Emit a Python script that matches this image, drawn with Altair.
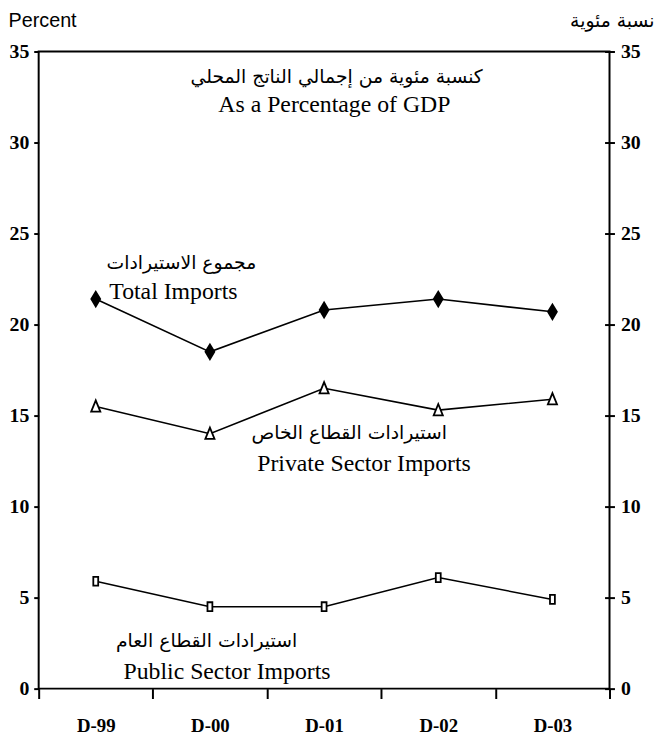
import altair as alt
import pandas as pd

categories = ["D-99", "D-00", "D-01", "D-02", "D-03"]
total = [21.4, 18.5, 20.8, 21.4, 20.7]
private = [15.5, 14.0, 16.5, 15.3, 15.9]
public = [5.9, 4.5, 4.5, 6.1, 4.9]
series_names = ["Total Imports", "Private Sector Imports", "Public Sector Imports"]
y_ticks = [0, 5, 10, 15, 20, 25, 30, 35]

# annotation texts (position in data units: category index, value)
ann_en = ["As a Percentage of GDP", "Total Imports", "Private Sector Imports", "Public Sector Imports"]
ann_en_x = [2.09, 0.68, 2.35, 1.15]
ann_en_y = [32.05, 21.8, 12.35, 0.9]
ann_ar = ["كنسبة مئوية من إجمالي الناتج المحلي", "مجموع الاستيرادات", "استيرادات القطاع الخاص", "استيرادات القطاع العام"]
ann_ar_x = [2.11, 0.75, 2.22, 0.97]
ann_ar_y = [33.6, 23.4, 14.05, 2.6]

rows = []
for s, vals in zip(series_names, [total, private, public]):
    for i, (c, v) in enumerate(zip(categories, vals)):
        rows.append({"series": s, "idx": i, "cat": c, "value": v})
df = pd.DataFrame(rows)

en_df = pd.DataFrame({"text": ann_en, "idx": ann_en_x, "value": ann_en_y})
ar_df = pd.DataFrame({"text": ann_ar, "idx": ann_ar_x, "value": ann_ar_y})

x_scale = alt.Scale(domain=[-0.5, 4.5], nice=False, zero=False)
y_scale = alt.Scale(domain=[0, 35], nice=False, zero=True)

cat_js = "[" + ",".join("'" + c + "'" for c in categories) + "]"
label_expr = f"datum.value < 4 ? {cat_js}[round(datum.value + 0.5)] : ''"

TICK_FONT = "Liberation Serif"

x_axis = alt.Axis(
    values=[-0.5, 0.5, 1.5, 2.5, 3.5, 4.5], labelExpr=label_expr, labelOffset=57.7,
    tickSize=10, tickWidth=2, tickColor="black", labelPadding=18, domain=False, grid=False,
    title=None, labelFont=TICK_FONT, labelFontSize=19, labelFontWeight="bold",
    labelColor="black", labelFlush=False, labelOverlap=False,
)
x_enc = alt.X("idx:Q", scale=x_scale, axis=x_axis)

left_axis = alt.Axis(
    values=y_ticks, orient="left", tickSize=5, tickWidth=2, tickColor="black", labelPadding=5,
    domain=False, grid=False, labelFont=TICK_FONT, labelFontSize=20, labelFontWeight="bold",
    labelColor="black", labelFlush=False,
    title="Percent", titleAngle=0, titleX=-31, titleY=-31, titleAlign="left",
    titleBaseline="middle", titleFont="Liberation Sans", titleFontSize=20,
    titleFontWeight="normal", titleColor="black",
)
right_axis = alt.Axis(
    values=y_ticks, orient="right", offset=-5, tickSize=10, tickWidth=2, tickColor="black",
    labelPadding=6, domain=False, grid=False, labelFont=TICK_FONT, labelFontSize=20,
    labelFontWeight="bold", labelColor="black", labelFlush=False,
    title="نسبة مئوية", titleAngle=0, titleX=50, titleY=-31, titleAlign="right",
    titleBaseline="middle", titleFont="DejaVu Sans", titleFontSize=19,
    titleFontWeight="normal", titleColor="black",
)

lines = alt.Chart(df).mark_line(color="black", strokeWidth=1.6).encode(
    x=x_enc,
    y=alt.Y("value:Q", scale=y_scale, axis=left_axis),
    detail="series:N",
)

shape_paths = [
    "M0,-1L0.6,0L0,1L-0.6,0Z",
    "M0,-1L0.75,0.85L-0.75,0.85Z",
    "M-0.55,-1H0.55V1H-0.55Z",
]
points = alt.Chart(df).mark_point(stroke="black", strokeWidth=1.8, opacity=1).encode(
    x=x_enc,
    y=alt.Y("value:Q", scale=y_scale, axis=right_axis),
    shape=alt.Shape("series:N", scale=alt.Scale(domain=series_names, range=shape_paths), legend=None),
    fill=alt.Fill("series:N", scale=alt.Scale(domain=series_names, range=["black", "white", "white"]), legend=None),
    size=alt.Size("series:N", scale=alt.Scale(domain=series_names, range=[225, 81, 64]), legend=None),
)

en_text = alt.Chart(en_df).mark_text(
    font="Liberation Serif", fontSize=24, color="black", align="center", baseline="middle"
).encode(
    x=x_enc,
    y=alt.Y("value:Q", scale=y_scale, axis=None),
    text="text:N",
)
ar_text = alt.Chart(ar_df).mark_text(
    font="DejaVu Sans", fontSize=19, color="black", align="center", baseline="middle"
).encode(
    x=x_enc,
    y=alt.Y("value:Q", scale=y_scale, axis=None),
    text="text:N",
)

chart = alt.layer(lines, points, en_text, ar_text).resolve_axis(y="independent").properties(
    width=577, height=644,
    autosize=alt.AutoSizeParams(type="none"),
    padding={"left": 31, "top": 40, "right": 48, "bottom": 53},
    background="white",
).configure_view(stroke="black", strokeWidth=2)

chart.save("out.html", embed_options={"renderer": "svg", "actions": False})
